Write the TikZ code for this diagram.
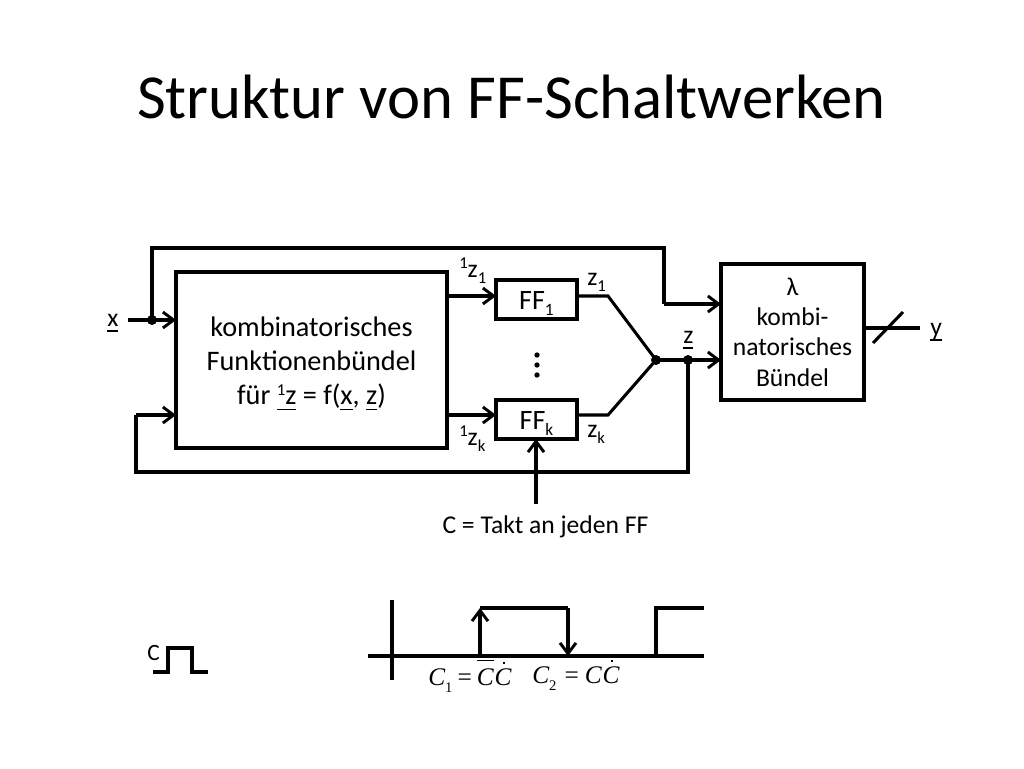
\documentclass[tikz,border=0pt]{standalone}
\usepackage{fontspec}
\setmainfont{Carlito}
\newfontfamily\timesf{Liberation Serif}
\usetikzlibrary{arrows.meta}
\newcommand{\ul}[1]{\leavevmode\setbox0\hbox{#1}\rlap{\raisebox{-4.2pt}{\rule{\wd0}{0.95pt}}}\box0{}}
\newcommand{\sz}[2]{\fontsize{#1}{#2}\selectfont}
\newcommand{\tm}[1]{{\timesf\itshape #1}}
\newcommand{\dotC}{\rlap{\kern6.5pt\raisebox{15.5pt}{\rule{1.6pt}{1.6pt}}}\tm{C}}
\newcommand{\barC}{\rlap{\raisebox{18pt}{\rule{12.75pt}{0.6pt}}}\tm{C}}
\newcommand{\subs}[1]{\raisebox{-4.5pt}{\sz{12.5}{13}#1}}
\newcommand{\ffsub}[1]{\raisebox{-5pt}{\sz{13}{13}#1}}
\newcommand{\sups}[1]{\raisebox{6.75pt}{\sz{12.5}{13}#1}}
\newcommand{\tsub}[1]{\raisebox{-5.25pt}{\timesf\sz{11}{11}#1}}
\tikzset{
  x=0.75pt,y=-0.75pt,
  wire/.style={line width=2.3pt,line join=miter},
  arr/.style={wire,-{Straight Barb[length=8pt,width=12pt,line width=2.2pt]}},
  box/.style={draw,line width=2.6pt,fill=white,inner sep=0pt,outer sep=0pt,anchor=north west},
  ffbox/.style={box,minimum width=81*0.75pt,minimum height=39*0.75pt,font=\sz{21}{22},text height=14.25pt,text depth=0pt},
  lab/.style={inner sep=0pt,anchor=base west,font=\sz{19.2}{21}},
  dot/.style={circle,fill=black,inner sep=0pt,minimum size=7.5pt},
  pip/.style={circle,fill=black,inner sep=0pt,minimum size=4pt},
  formula/.style={inner sep=0pt,anchor=base west,font=\sz{19}{20}},
}
\begin{document}
\begin{tikzpicture}
\useasboundingbox (0,0) rectangle (1024,768);
\node[inner sep=0pt,font=\sz{47}{52}] (title) at (511.5,97) {Struktur von FF-Schaltwerken};
\node[box,minimum width=271*0.75pt,minimum height=176*0.75pt,align=center,font=\sz{21.2}{25.5}] (kf) at (176,272)
  {\rule{0pt}{20.5pt}kombinatorisches\\Funktionenbündel\\für \ul{\sups{1}z} = f(\ul{x}, \ul{z})};
\node[ffbox] (ff1) at (496,280) {FF\ffsub{1}};
\node[ffbox] (ffk) at (496,400) {FF\ffsub{k}};
\node[box,minimum width=143*0.75pt,minimum height=136*0.75pt,align=center,font=\sz{19.2}{22.8}] (lam) at (721,264)
  {λ\\kombi-\\natorisches\\Bündel};
\coordinate (xs) at (128,320);
\node[dot] (dx) at (152,320) {};
\node[dot] (dm) at (656,360) {};
\node[dot] (dz) at (688,360) {};
\coordinate (top1) at (152,248);
\coordinate (top2) at (664,248);
\coordinate (top3) at (664,304);
\coordinate (bot1) at (688,472);
\coordinate (bot2) at (136,472);
\coordinate (bot3) at (136,415);
\coordinate (up) at (608,296);
\coordinate (lo) at (608,415);
\coordinate (ys) at (864,328);
\coordinate (ye) at (920,328);
\coordinate (sl1) at (873,343);
\coordinate (sl2) at (903,312);
\coordinate (cs) at (536,504);
\draw[arr] (xs) -- (kf.west |- xs);
\draw[wire] (dx.center) -- (top1) -- (top2) -- (top3);
\draw[arr] (top3) -- (lam.west |- top3);
\draw[arr] (kf.east |- up) -- (ff1.west |- up);
\draw[arr] (kf.east |- lo) -- (lo -| ffk.west);
\draw[wire] (ff1.east |- up) -- (up) -- (dm.center) -- (lo) -- (lo -| ffk.east);
\draw[arr] (dm.center) -- (lam.west |- dm);
\draw[wire] (dz.center) -- (bot1) -- (bot2) -- (bot3);
\draw[arr] (bot3) -- (kf.west |- bot3);
\draw[arr] (cs) -- (ffk.south -| cs);
\draw[wire] (ys) -- (ye);
\draw[wire] (sl1) -- (sl2);
\node[pip] (d1) at (537,355) {};
\node[pip] (d2) at (537,365) {};
\node[pip] (d3) at (537,375) {};
\node[lab] (lx) at (107,326) {\ul{x}};
\node[lab] (lz) at (683,343) {\ul{z}};
\node[lab] (ly) at (930,335) {\ul{y}};
\node[lab] (l1z1) at (459,277) {\sups{1}z\subs{1}};
\node[lab] (l1zk) at (459,445.5) {\sups{1}z\subs{k}};
\node[lab] (lz1) at (587,285) {z\subs{1}};
\node[lab] (lzk) at (587,437) {z\subs{k}};
\node[lab,anchor=base] (lc) at (545.5,533) {C = Takt an jeden FF};
% clock symbol
\node[lab,font=\sz{17.5}{20}] (lcc) at (147,660) {C};
\coordinate (p0) at (153,672);
\coordinate (p1) at (168,672);
\coordinate (p2) at (168,648);
\coordinate (p3) at (192,648);
\coordinate (p4) at (192,672);
\coordinate (p5) at (208,672);
\draw[wire] (p0) -- (p1) -- (p2) -- (p3) -- (p4) -- (p5);
% timing
\coordinate (ax1) at (392,600);
\coordinate (ax2) at (392,680);
\coordinate (ax3) at (368,656);
\coordinate (ax4) at (704,656);
\coordinate (r1) at (480,656);
\coordinate (r2) at (480,608);
\coordinate (f1) at (568,608);
\coordinate (f2) at (568,656);
\coordinate (s1) at (656,656);
\coordinate (s2) at (656,608);
\coordinate (s3) at (704,608);
\draw[wire] (ax1) -- (ax2);
\draw[wire] (ax3) -- (ax4);
\draw[arr] (r1) -- (r2);
\draw[wire] (r2) -- (f1);
\draw[arr] (f1) -- (f2);
\draw[wire] (s1) -- (s2) -- (s3);
\node[formula] (c1) at (428,685)
  {\tm{C}\tsub{1}\kern3.75pt{\timesf=}\kern3.75pt\barC\kern0.75pt\dotC};
\node[formula] (c2) at (532,683)
  {\tm{C}\tsub{2}\kern6pt{\timesf=}\kern4.5pt\tm{C}\kern0.75pt\dotC};
\end{tikzpicture}
\end{document}
